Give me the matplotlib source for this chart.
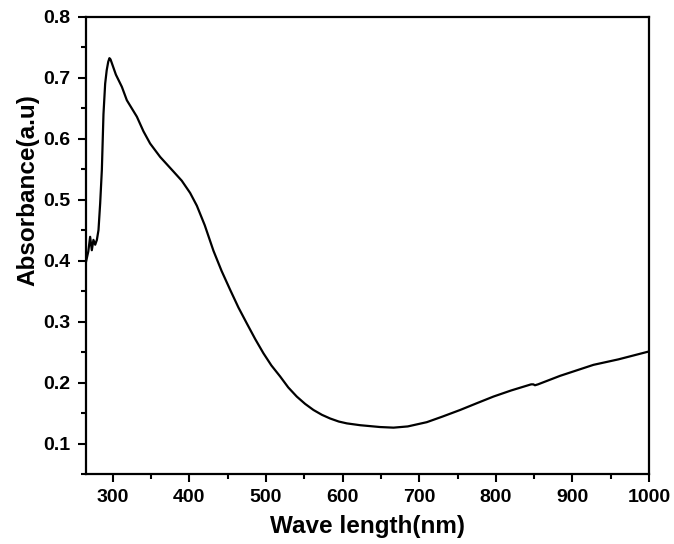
import matplotlib
matplotlib.use("Agg")
import matplotlib.pyplot as plt
from matplotlib.ticker import MultipleLocator, FormatStrFormatter

plt.rcParams['font.family'] = ['Liberation Sans', 'DejaVu Sans']

# UV-Vis absorbance spectrum
wavelength = [265, 268, 270.4, 272.6, 274.7, 277, 279.2, 281.3, 283.5, 285.7,
              287.8, 290, 292, 294, 295.6, 297, 298.7, 304, 311.8, 318.3,
              331.4, 340, 348.7, 361.8, 379.2, 390, 400.9, 409.7, 420, 431.4,
              442, 453.2, 464, 474.9, 486, 496.6, 507, 518.4, 529, 540.1,
              551, 561.9, 573, 583.7, 595, 605.5, 622.9, 648.9, 666.4, 685,
              709.9, 730, 753.4, 775, 796.9, 820, 846, 849, 851, 855,
              883.9, 927.4, 960, 1000]
absorbance = [0.398, 0.415, 0.439, 0.417, 0.434, 0.426, 0.434, 0.450, 0.494, 0.549,
              0.640, 0.690, 0.712, 0.726, 0.732, 0.730, 0.724, 0.705, 0.685, 0.663,
              0.636, 0.612, 0.592, 0.570, 0.546, 0.531, 0.511, 0.490, 0.458, 0.416,
              0.383, 0.352, 0.323, 0.297, 0.271, 0.248, 0.228, 0.210, 0.192, 0.177,
              0.165, 0.155, 0.147, 0.141, 0.136, 0.133, 0.130, 0.127, 0.126, 0.128,
              0.135, 0.144, 0.155, 0.166, 0.177, 0.187, 0.197, 0.197, 0.1955, 0.197,
              0.211, 0.229, 0.238, 0.251]

fig = plt.figure(figsize=(6.74, 5.44), dpi=100)
ax = fig.add_axes([0.1276, 0.1287, 0.8354, 0.8406])

ax.plot(wavelength, absorbance, color='black', linewidth=1.6)

ax.set_xlim(265, 1000)
ax.set_ylim(0.05, 0.8)

ax.xaxis.set_major_locator(MultipleLocator(100))
ax.xaxis.set_minor_locator(MultipleLocator(50))
ax.yaxis.set_major_locator(MultipleLocator(0.1))
ax.yaxis.set_minor_locator(MultipleLocator(0.05))
ax.yaxis.set_major_formatter(FormatStrFormatter('%.1f'))

ax.tick_params(axis='both', which='major', direction='out', length=6, width=1.5,
               labelsize=14, pad=5)
ax.tick_params(axis='both', which='minor', direction='out', length=3.5, width=1.5)
ax.tick_params(top=False, right=False)
for lbl in ax.get_xticklabels() + ax.get_yticklabels():
    lbl.set_fontweight('bold')

for sp in ax.spines.values():
    sp.set_linewidth(1.6)

ax.set_xlabel('Wave length(nm)', fontsize=17.5, fontweight='bold', labelpad=6)
ax.set_ylabel('Absorbance(a.u)', fontsize=17.5, fontweight='bold')
ax.yaxis.set_label_coords(-0.083, 0.62)

fig.savefig('out.png', dpi=100)
